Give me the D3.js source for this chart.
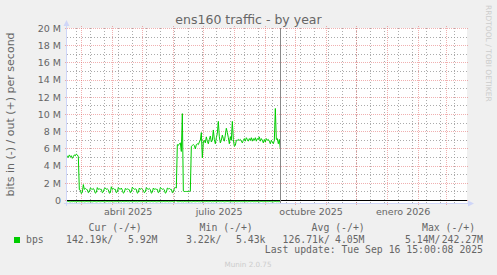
<!DOCTYPE html>
<meta charset="utf-8">
<title>ens160 traffic - by year</title>
<style>
body { margin: 0; background: #F0F0F0; }
svg { display: block; }
text { fill: #666666; font-family: "DejaVu Sans", sans-serif; }
.mono { font-family: "DejaVu Sans Mono", monospace; font-size: 9.8px; }
</style>
<body>
<script src="https://d3js.org/d3.v7.min.js"></script>
<script>

// daily averages from 15 Feb 2025 to 16 Sep 2025, in Mbit/s
const firstDay = "2025-02-15";
const outMbps = [
  5.2, 5.0, 5.3, 5.1, 5.2, 4.9, 5.1, 5.3, 5.2, 5.4, 5.3, 5.1,
  1.25, 1.2, 0.8, 0.95, 1.85, 1.3, 1.4,
  1.3, 1.25, 0.9, 1.0, 1.45, 1.35, 1.3,
  1.4, 1.2, 0.85, 0.95, 1.5, 1.3, 1.35,
  1.3, 1.3, 0.9, 1.0, 1.4, 1.45, 1.3,
  1.35, 1.25, 0.85, 0.9, 1.6, 1.3, 1.4,
  1.3, 1.3, 0.9, 1.0, 1.5, 1.35, 1.3,
  1.45, 1.2, 0.85, 0.95, 1.4, 1.3, 1.35,
  1.3, 1.25, 0.9, 1.0, 1.55, 1.4, 1.3,
  1.35, 1.3, 0.85, 0.95, 1.45, 1.3, 1.4,
  1.3, 1.2, 0.9, 1.0, 1.5, 1.35, 1.3,
  1.4, 1.25, 0.85, 0.95, 1.45, 1.3, 1.35,
  1.3, 1.3, 0.9, 1.0, 1.5, 1.4, 1.3,
  1.35, 1.25, 0.85, 0.95, 1.45, 1.35, 1.4,
  1.3, 1.3, 0.9, 1.0, 1.4, 1.5, 1.45,
  6.5, 6.4, 6.6, 6.7, 5.7, 10.1, 1.1, 1.05, 1.05, 1.05, 1.05, 1.05, 1.05, 1.1,
  6.3, 6.4, 6.5, 6.4, 6.0, 6.5, 6.6, 6.5, 6.8, 7.0,
  7.9, 4.95, 6.8, 7.0, 6.7, 7.4, 6.9, 6.6, 7.1, 7.5,
  6.8, 7.0, 8.2, 7.1, 6.6, 7.3, 7.8, 9.2, 7.4, 6.7,
  7.0, 7.6, 7.2, 6.9, 7.6, 8.4, 7.9, 7.3, 6.6, 7.4,
  7.0, 9.2, 7.1, 6.3, 6.4, 7.0, 7.0, 7.1, 7.0, 7.1,
  6.9, 6.7, 7.0, 7.2, 6.9, 7.3, 7.1, 6.9, 7.2, 7.0,
  7.3, 6.9, 7.2, 7.0, 7.3, 6.9, 7.2, 7.1, 7.4, 6.9,
  7.2, 7.0, 6.7, 7.1, 6.8, 7.2, 7.0, 7.1, 6.9, 6.6,
  7.0, 6.8, 6.6, 7.0, 10.7, 7.1, 7.2, 6.6, 7.1, 6.0
];
const inMbps = [
  0.13, 0.12, 0.14, 0.15, 0.13, 0.14, 0.12,
  0.14, 0.13, 0.15, 0.12, 0.13, 0.14, 0.13,
  0.12, 0.14, 0.13, 0.15, 0.14, 0.12, 0.13,
  0.14, 0.13, 0.12, 0.14, 0.15, 0.13, 0.12,
  0.13, 0.15, 0.14, 0.12, 0.13, 0.14, 0.13,
  0.12, 0.13, 0.14, 0.15, 0.13, 0.12, 0.14,
  0.13, 0.14, 0.12, 0.13, 0.15, 0.14, 0.13,
  0.14, 0.12, 0.13, 0.14, 0.13, 0.15, 0.12,
  0.13, 0.14, 0.13, 0.12, 0.14, 0.13, 0.15,
  0.12, 0.13, 0.14, 0.13, 0.12, 0.14, 0.13,
  0.15, 0.13, 0.12, 0.14, 0.13, 0.14, 0.12,
  0.13, 0.14, 0.15, 0.13, 0.12, 0.13, 0.14,
  0.12, 0.13, 0.14, 0.12, 0.13, 0.15, 0.14,
  0.13, 0.12, 0.14, 0.13, 0.14, 0.12, 0.13,
  0.14, 0.13, 0.12, 0.15, 0.13, 0.14, 0.13,
  0.12, 0.14, 0.13, 0.05, 0.06, 0.13, 0.14,
  0.13, 0.12, 0.14, 0.13, 0.15, 0.12, 0.13,
  0.14, 0.13, 0.12, 0.14, 0.13, 0.15, 0.14,
  0.12, 0.13, 0.14, 0.13, 0.12, 0.14, 0.13,
  0.15, 0.13, 0.12, 0.14, 0.13, 0.14, 0.12,
  0.13, 0.14, 0.13, 0.12, 0.15, 0.13, 0.14,
  0.12, 0.13, 0.14, 0.13, 0.12, 0.14, 0.13,
  0.14, 0.12, 0.13, 0.15, 0.14, 0.13, 0.12,
  0.13, 0.14, 0.12, 0.13, 0.14, 0.13, 0.15,
  0.12, 0.13, 0.14, 0.13, 0.12, 0.14, 0.13,
  0.14, 0.13, 0.12, 0.14, 0.13, 0.15, 0.13,
  0.12, 0.14, 0.13, 0.12, 0.14, 0.13, 0.14,
  0.13, 0.12, 0.14, 0.15, 0.13, 0.12, 0.13,
  0.14, 0.13, 0.12, 0.14, 0.13, 0.14, 0.12,
  0.13, 0.14, 0.13, 0.15, 0.13, 0.12, 0.14,
  0.13, 0.14, 0.13, 0.14
];

const yTicks = [0, 2, 4, 6, 8, 10, 12, 14, 16, 18, 20];
const yTickLabels = ["0", "2 M", "4 M", "6 M", "8 M", "10 M", "12 M", "14 M", "16 M", "18 M", "20 M"];
const monthLabels = ["abril 2025", "julio 2025", "octubre 2025", "enero 2026"];
const monthLabelDates = ["2025-04-01", "2025-07-01", "2025-10-01", "2026-01-01"];
const legendHeads = ["Cur (-/+)", "Min (-/+)", "Avg (-/+)", "Max (-/+)"];
const legendValues = ["142.19k/", "5.92M", "3.22k/", "5.43k", "126.71k/", "4.05M", "5.14M/", "242.27M"];
const seriesName = "bps";
const lastUpdate = "Last update: Tue Sep 16 15:00:08 2025";
const nowTime = "2025-09-16T15:00:08";

const W = 497, H = 275;
const plotL = 67, plotR = 467, plotT = 28.5, plotB = 203.25;

const parseDay = d3.timeParse("%Y-%m-%d");
const parseTime = d3.timeParse("%Y-%m-%dT%H:%M:%S");

const startTime = new Date(2025, 1, 14, 16);
const endTime = d3.timeDay.offset(startTime, 400);

const x = d3.scaleTime().domain([startTime, endTime]).range([plotL, plotR]);
const y = d3.scaleLinear().domain([-0.32, 20]).range([plotB, plotT]);

const crisp = v => Math.floor(v) + 0.5;

const svg = d3.select("body").append("svg")
    .attr("width", W)
    .attr("height", H);

svg.append("rect").attr("width", W).attr("height", H).attr("fill", "#F0F0F0");
svg.append("rect")
    .attr("x", plotL).attr("y", 28)
    .attr("width", plotR - plotL).attr("height", 175.5)
    .attr("fill", "#ffffff");

// grid
const minorColor = "rgba(143,143,143,0.75)";
const majorColor = "rgba(222,79,79,0.45)";

var days0 = parseDay(firstDay);
var minorDates = d3.range(0, 30).map(k => d3.timeDay.offset(parseDay("2025-02-24"), 14 * k))
    .filter(d => d > startTime && d < endTime);
var monthDates = d3.timeMonth.range(startTime, endTime);

svg.append("g").selectAll("line")
  .data(minorDates)
  .enter().append("line")
    .attr("x1", d => crisp(x(d))).attr("x2", d => crisp(x(d)))
    .attr("y1", 28).attr("y2", 203)
    .attr("stroke", minorColor).attr("stroke-dasharray", "1,2");

svg.append("g").selectAll("line")
  .data(d3.range(1, 20, 2))
  .enter().append("line")
    .attr("x1", plotL).attr("x2", plotR)
    .attr("y1", d => crisp(y(d))).attr("y2", d => crisp(y(d)))
    .attr("stroke", minorColor).attr("stroke-dasharray", "1,2");

svg.append("g").selectAll("line")
  .data(monthDates)
  .enter().append("line")
    .attr("x1", d => crisp(x(d))).attr("x2", d => crisp(x(d)))
    .attr("y1", 26).attr("y2", 205)
    .attr("stroke", majorColor).attr("stroke-dasharray", "1,1");

svg.append("g").selectAll("line")
  .data(yTicks)
  .enter().append("line")
    .attr("x1", plotL - 2).attr("x2", plotR + 2)
    .attr("y1", d => crisp(y(d))).attr("y2", d => crisp(y(d)))
    .attr("stroke", majorColor).attr("stroke-dasharray", "1,1");

// y tick labels
svg.append("g").selectAll("text")
  .data(yTicks)
  .enter().append("text")
    .attr("x", 61)
    .attr("y", d => y(d) + 3.3)
    .attr("text-anchor", "end")
    .style("font-size", "9.5px")
    .text((d, i) => yTickLabels[i]);

// x labels, centred in the middle of the month
svg.append("g").selectAll("text")
  .data(monthLabelDates)
  .enter().append("text")
    .attr("x", d => x(new Date(parseDay(d).getTime() + 15.8 * 864e5)))
    .attr("y", 214.5)
    .attr("text-anchor", "middle")
    .style("font-size", "9.5px")
    .text((d, i) => monthLabels[i]);

// data lines
svg.append("clipPath").attr("id", "plot")
  .append("rect").attr("x", plotL).attr("y", 28).attr("width", plotR - plotL).attr("height", 175.5);

var dayX = (d, i) => x(d3.timeDay.offset(days0, i));
var outLine = d3.line().x((d, i) => dayX(d, i)).y(d => y(d));
var inLine = d3.line().x((d, i) => dayX(d, i)).y(d => y(-d));

var plot = svg.append("g").attr("clip-path", "url(#plot)");
plot.append("path").datum(inMbps)
    .attr("d", inLine)
    .attr("fill", "none").attr("stroke", "#00CC00").attr("stroke-width", 1);
plot.append("path").datum(outMbps)
    .attr("d", outLine)
    .attr("fill", "none").attr("stroke", "#00CC00").attr("stroke-width", 1);

// zero line
svg.append("line")
    .attr("x1", plotL).attr("x2", plotR)
    .attr("y1", crisp(y(0))).attr("y2", crisp(y(0)))
    .attr("stroke", "#000000");

// "now" marker
var nowX = crisp(x(parseTime(nowTime)));
svg.append("line")
    .attr("x1", nowX).attr("x2", nowX)
    .attr("y1", 28).attr("y2", 203)
    .attr("stroke", "#888888");

// axes with arrows
svg.append("line").attr("x1", 66.5).attr("x2", 66.5).attr("y1", 26).attr("y2", 206)
    .attr("stroke", "#CFD6F8");
svg.append("path").attr("d", "M63.5,26L69.5,26L66.5,20Z").attr("fill", "#CFD6F8");
svg.append("line").attr("x1", 64).attr("x2", 469).attr("y1", 203.5).attr("y2", 203.5)
    .attr("stroke", "#CFD6F8");
svg.append("path").attr("d", "M468,200.5L468,206.5L474,203.5Z").attr("fill", "#CFD6F8");

// title
svg.append("text")
    .attr("x", 248.5).attr("y", 24)
    .attr("text-anchor", "middle")
    .style("font-size", "12.5px")
    .text("ens160 traffic - by year");

// vertical axis title
svg.append("text")
    .attr("transform", "translate(13.5,114.5)rotate(-90)")
    .attr("text-anchor", "middle")
    .style("font-size", "11px")
    .text("bits in (-) / out (+) per second");

// watermark
svg.append("text")
    .attr("transform", "translate(485.5,5)rotate(90)")
    .style("font-size", "7.5px")
    .style("fill", "#cccccc")
    .text("RRDTOOL / TOBI OETIKER");

// legend
svg.append("rect").attr("x", 14).attr("y", 237).attr("width", 6).attr("height", 6)
    .attr("fill", "#00CC00");

var headX = [88.6, 199.6, 311.6, 422];
svg.append("g").selectAll("text")
  .data(legendHeads)
  .enter().append("text")
    .attr("class", "mono")
    .attr("x", (d, i) => headX[i]).attr("y", 231)
    .text(d => d);

svg.append("text").attr("class", "mono").attr("x", 26).attr("y", 243).text(seriesName);

var valX = [66, 128, 186, 236, 282.6, 335, 405, 483];
svg.append("g").selectAll("text")
  .data(legendValues)
  .enter().append("text")
    .attr("class", "mono")
    .attr("x", (d, i) => valX[i]).attr("y", 243)
    .attr("text-anchor", (d, i) => i == legendValues.length - 1 ? "end" : "start")
    .text(d => d);

svg.append("text").attr("class", "mono")
    .attr("x", 483).attr("y", 253)
    .attr("text-anchor", "end")
    .text(lastUpdate);

svg.append("text")
    .attr("x", 248).attr("y", 266.5)
    .attr("text-anchor", "middle")
    .style("font-size", "7.2px")
    .style("fill", "#cccccc")
    .text("Munin 2.0.75");

</script>
</body>
